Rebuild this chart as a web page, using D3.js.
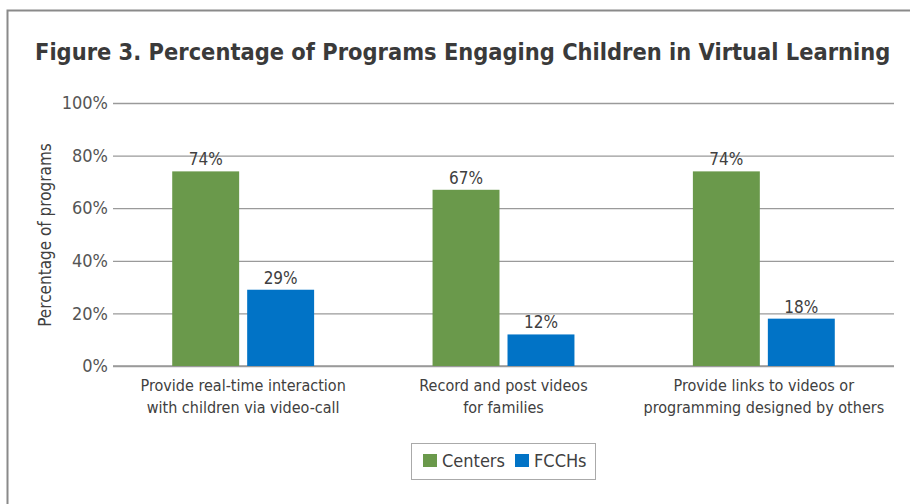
<!DOCTYPE html>
<html><head><meta charset="utf-8">
<script src="https://cdn.jsdelivr.net/npm/d3@7"></script>
<style>
body{margin:0;background:#fff;}
text{font-family:"Liberation Sans Narrow","DejaVu Sans Condensed",sans-serif;}
</style></head>
<body><svg id="c" width="910" height="504"></svg>
<script>
const categories = [
  ["Provide real-time interaction","with children via video-call"],
  ["Record and post videos","for families"],
  ["Provide links to videos or","programming designed by others"]
];
const seriesNames = ["Centers","FCCHs"];
const centers = [74, 67, 74];
const fcchs = [29, 12, 18];
const yTicks = [0, 20, 40, 60, 80, 100];
const colors = ["#6a994b", "#0173c6"];

const svg = d3.select("#c");
// frame
svg.append("path").attr("d","M7.5,504 V10.5 H910").attr("fill","none").attr("stroke","#8a8a8a").attr("stroke-width",2);

const title = svg.append("text").attr("x",35).attr("y",60)
  .attr("font-size",24).attr("font-weight","bold").attr("fill","#3a3a3a")
  .text("Figure 3. Percentage of Programs Engaging Children in Virtual Learning");
const tw = title.node().getComputedTextLength();
title.attr("font-size", Math.min(26, 24 * 856 / tw));

const x0 = d3.scaleBand().domain(d3.range(categories.length)).range([113,894]).paddingInner(0).paddingOuter(0);
const x1 = d3.scaleBand().domain(seriesNames).range([0,x0.bandwidth()]).paddingInner(0.107).paddingOuter(0.79);
const y = d3.scaleLinear().domain([0,100]).range([366,103]);

// gridlines
const yAxis = d3.axisLeft(y).tickValues(yTicks).tickFormat(d=>d+"%").tickSize(-(894-113)).tickPadding(5);
const g = svg.append("g").attr("transform","translate(113,0)").call(yAxis);
g.select(".domain").remove();
g.selectAll(".tick line").attr("stroke","#9a9a9a").attr("stroke-width",1.3);
g.selectAll(".tick text").attr("font-size",18).attr("fill","#555").attr("font-family",'"Liberation Sans Narrow","DejaVu Sans Condensed",sans-serif');

// baseline
svg.append("line").attr("x1",113).attr("x2",894).attr("y1",y(0)).attr("y2",y(0)).attr("stroke","#9a9a9a").attr("stroke-width",1.3);

const data = [centers, fcchs];
seriesNames.forEach((s,si)=>{
  const gg = svg.append("g");
  gg.selectAll("rect").data(data[si]).join("rect")
    .attr("x",(d,i)=>x0(i)+x1(s)).attr("width",x1.bandwidth())
    .attr("y",d=>y(d)).attr("height",d=>y(0)-y(d)).attr("fill",colors[si]);
  gg.selectAll("text").data(data[si]).join("text")
    .attr("x",(d,i)=>x0(i)+x1(s)+x1.bandwidth()/2).attr("y",d=>y(d)-6)
    .attr("text-anchor","middle").attr("font-size",17).attr("fill","#404040")
    .text(d=>d+"%");
});

// category labels
categories.forEach((lines,i)=>{
  const t = svg.append("text").attr("text-anchor","middle").attr("font-size",16).attr("fill","#404040");
  lines.forEach((l,j)=>{
    t.append("tspan").attr("x",x0(i)+x0.bandwidth()/2).attr("y",391+j*22).text(l);
  });
});

// y title
svg.append("text").attr("transform","translate(51,235) rotate(-90)").attr("text-anchor","middle")
  .attr("font-size",17).attr("fill","#404040").text("Percentage of programs");

// legend
const lg = svg.append("g");
lg.append("rect").attr("x",411.5).attr("y",443.5).attr("width",184).attr("height",36).attr("fill","#fff").attr("stroke","#aaa").attr("stroke-width",1);
const lx = [423, 515];
seriesNames.forEach((s,i)=>{
  lg.append("rect").attr("x",lx[i]).attr("y",454).attr("width",14).attr("height",13).attr("fill",colors[i]);
  lg.append("text").attr("x",lx[i]+19).attr("y",467).attr("font-size",18).attr("fill","#404040").text(s);
});
</script></body></html>
